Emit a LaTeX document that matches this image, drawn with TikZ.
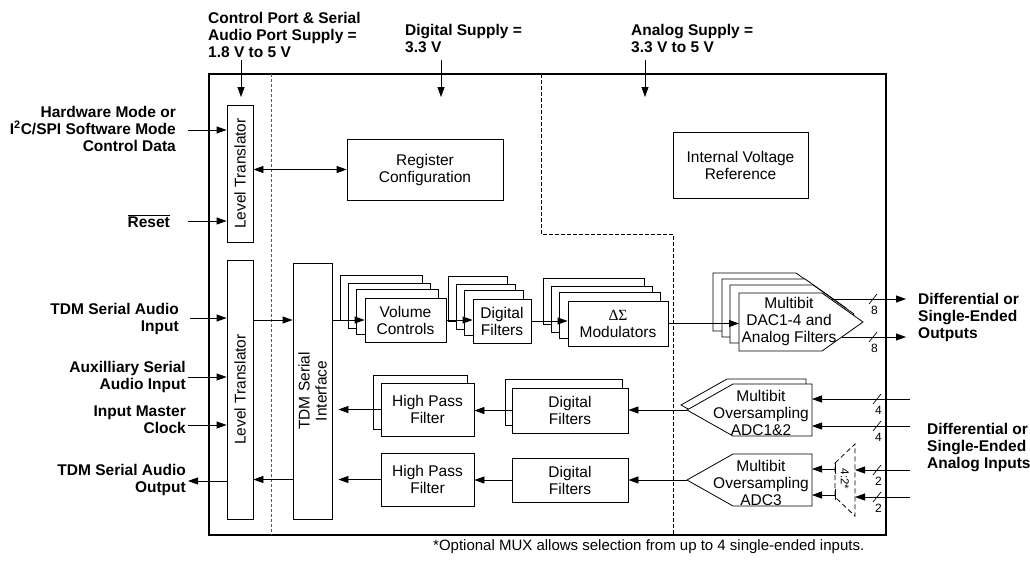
\documentclass[tikz,border=0pt]{standalone}
\usepackage{fontspec}
\setmainfont{Liberation Sans}
\newfontfamily\symserif{Liberation Serif}
\usetikzlibrary{arrows.meta,calc,backgrounds}
\newcommand\stackbehind[2]{%
  \begin{scope}[on background layer]
  \foreach \dx/\dy in {#2}{\draw[back] ($(#1.north west)+(\dx,\dy)$) rectangle ($(#1.south east)+(\dx,\dy)$);}
  \end{scope}}
\begin{document}
\begin{tikzpicture}[x=1pt,y=-1pt,
  txt/.style={font=\fontsize{15.5}{17}\selectfont, inner sep=0pt, align=center},
  blk/.style={draw, fill=white, line width=0.8pt, inner sep=0pt, align=center, font=\fontsize{15.5}{17}\selectfont},
  back/.style={draw, fill=white, line width=0.8pt},
  lbl/.style={font=\fontsize{15.5}{17}\selectfont\bfseries, inner sep=0pt, align=right, anchor=east},
  lbll/.style={font=\fontsize{15.5}{17}\selectfont\bfseries, inner sep=0pt, align=left, anchor=west},
  arr/.style={-{Triangle[length=10pt,width=7pt]}, line width=0.8pt},
  darr/.style={{Triangle[length=10pt,width=7pt]}-{Triangle[length=10pt,width=7pt]}, line width=0.8pt},
  wire/.style={line width=0.8pt},
  num/.style={font=\fontsize{12}{13}\selectfont, inner sep=0pt},
]
\useasboundingbox (0,0) rectangle (1030,560);

% chip outline and supply domains
\draw[line width=2pt] (209,74) rectangle (886,535);
\draw[line width=0.7pt, black!65, dash pattern=on 3pt off 2pt] (271,74) -- (271,535);
\draw[line width=0.7pt, dash pattern=on 4pt off 2pt] (541,74) |- (673,234) -- (673,535);

% level translators, TDM interface, register, reference
\node[blk, minimum width=26pt, minimum height=137pt] (lt1) at (240,173.5) {};
\node[txt, rotate=90] (lt1t) at (lt1.center) {Level Translator};
\node[blk, minimum width=26pt, minimum height=259pt] (lt2) at (240,389.5) {};
\node[txt, rotate=90] (lt2t) at (lt2.center) {Level Translator};
\node[blk, minimum width=39pt, minimum height=256pt] (tdm) at (312.5,391) {};
\node[txt, rotate=90] (tdmt) at (tdm.center) {TDM Serial\\Interface};
\node[blk, minimum width=156pt, minimum height=61pt] (reg) at (425,169.5) {Register\\Configuration};
\node[blk, minimum width=135pt, minimum height=66pt] (ivr) at (740.5,165) {Internal Voltage\\Reference};

% row 1 (DAC path)
\node[blk, minimum width=81pt, minimum height=44pt] (vol) at (405.5,320) {Volume\\Controls};
\node[blk, minimum width=58pt, minimum height=44pt] (dfa) at (502,321) {Digital\\Filters};
\node[blk, minimum width=100pt, minimum height=45pt] (dsm) at (618,323.5) {{\symserif ΔΣ}\\Modulators};
\stackbehind{vol}{-24/-22,-16/-14,-8/-8}
\stackbehind{dfa}{-24/-22,-16/-14,-8/-8}
\stackbehind{dsm}{-24/-22,-16/-14,-8/-8}

\coordinate (dac) at (739,293);
\foreach \dx/\dy in {-26/-20,-17/-14,-9/-8,0/0}{
  \draw[back] ($(dac)+(\dx,\dy)$) -- ++(83,0) -- ++(41,29) -- ++(-41,29) -- ++(-83,0) -- cycle;}
\node[txt] (dact) at (789,321) {Multibit\\DAC1-4 and\\Analog Filters};
\coordinate (dacin) at (739,322);
\coordinate (dacoa) at (830.5,299);
\coordinate (dacob) at (841.8,337);
\coordinate (outa) at (906,299);
\coordinate (outb) at (906,337);

% ADCs
\coordinate (adcA) at (812,384);
\foreach \dx/\dy in {-6/-5,0/0}{
  \draw[back] ($(adcA)+(\dx,\dy)$) -- ++(0,52) -- ++(-79,0) -- ++(-46,-26) -- ++(46,-26) -- cycle;}
\node[txt] (adcAt) at (761,413) {Multibit\\Oversampling\\ADC1\&2};
\coordinate (adcAtip) at (687,410);
\coordinate (adcB) at (812,454);
\draw[back] (adcB) -- ++(0,52) -- ++(-79,0) -- ++(-46,-26) -- ++(46,-26) -- cycle;
\node[txt] (adcBt) at (761,483) {Multibit\\Oversampling\\ADC3};
\coordinate (adcBtip) at (687,480);

% rows 2 and 3
\node[blk, minimum width=116pt, minimum height=45pt] (dfb) at (570,410.5) {Digital\\Filters};
\stackbehind{dfb}{-6/-8}
\node[blk, minimum width=93pt, minimum height=53pt] (hpa) at (427.5,409.5) {High Pass\\Filter};
\stackbehind{hpa}{-7/-7}
\node[blk, minimum width=116pt, minimum height=44pt] (dfc) at (570,480) {Digital\\Filters};
\node[blk, minimum width=93pt, minimum height=53pt] (hpb) at (427.5,479.5) {High Pass\\Filter};

% MUX
\coordinate (muxr) at (855,444);
\draw[line width=0.8pt, dash pattern=on 5pt off 3pt] (835,463) -- (855,444) -- (855,516) -- (835,497) -- cycle;
\node[font=\fontsize{11.5}{12}\selectfont, inner sep=0pt, rotate=-90] (muxt) at (845,479) {4:2*};
\draw[wire] (835,463) -- (835,474);
\draw[wire] (835,489) -- (835,500);

% supply arrows and labels
\node[lbll] (supc) at (208,34.5) {Control Port \& Serial\\Audio Port Supply =\\1.8 V to 5 V};
\node[lbll] (supd) at (405,38.5) {Digital Supply =\\3.3 V};
\node[lbll] (supa) at (631,38.5) {Analog Supply =\\3.3 V to 5 V};
\coordinate (s1) at (241,60); \coordinate (s1e) at (241,97);
\coordinate (s2) at (441,60); \coordinate (s2e) at (441,97);
\coordinate (s3) at (645,60); \coordinate (s3e) at (645,97);
\draw[arr] (s1) -- (s1e);
\draw[arr] (s2) -- (s2e);
\draw[arr] (s3) -- (s3e);

% left labels and arrows
\node[lbl] (hw) at (176,128.5) {Hardware Mode or\\I\textsuperscript{2}C/SPI Software Mode\\Control Data};
\coordinate (hwin) at (188,130);
\draw[arr] (hwin) -- (hwin -| lt1.west);
\node[lbl] (rst) at (170,221) {$\overline{\mbox{\bfseries Reset}}$};
\coordinate (rstin) at (188,221);
\draw[arr] (rstin) -- (rstin -| lt1.west);
\node[lbl] (tdmi) at (179,318.5) {TDM Serial Audio\\Input};
\coordinate (tdmiin) at (190,318);
\draw[arr] (tdmiin) -- (tdmiin -| lt2.west);
\node[lbl] (aux) at (186,376.5) {Auxilliary Serial\\Audio Input};
\coordinate (auxin) at (188,377);
\draw[arr] (auxin) -- (auxin -| lt2.west);
\node[lbl] (mclk) at (186,419.5) {Input Master\\Clock};
\coordinate (mclkin) at (188,425);
\draw[arr] (mclkin) -- (mclkin -| lt2.west);
\node[lbl] (tdmo) at (186,480) {TDM Serial Audio\\Output};
\coordinate (tdmoout) at (188,481);
\draw[arr] (tdmoout -| lt2.west) -- (tdmoout);

% internal connectors
\draw[darr] (reg.west -| lt1.east) -- (reg.west);
\draw[arr] (vol.west -| lt2.east) -- (vol.west -| tdm.west);
\draw[arr] (vol.west -| tdm.east) -- (vol.west);
\draw[arr] (vol.east) -- (vol.east -| dfa.west);
\draw[arr] (dfa.east) -- (dfa.east -| dsm.west);
\draw[arr] (dsm.east) -- (dsm.east -| dacin);
\draw[arr] (dacoa) -- (outa);
\draw[arr] (dacob) -- (outb);
\draw[arr] (adcAtip) -- (adcAtip -| dfb.east);
\draw[arr] (adcBtip) -- (adcBtip -| dfc.east);
\draw[arr] (dfb.west) -- (dfb.west -| hpa.east);
\draw[arr] (dfc.west) -- (dfc.west -| hpb.east);
\draw[arr, shorten >=6pt] (hpa.west) -- (hpa.west -| tdm.east);
\draw[arr, shorten >=6pt] (hpb.west) -- (hpb.west -| tdm.east);
\draw[arr] (hpb.west -| tdm.west) -- (hpb.west -| lt2.east);

% analog inputs
\coordinate (ina) at (910,399);
\coordinate (inb) at (910,426);
\coordinate (inc) at (910,470);
\coordinate (ind) at (910,497);
\draw[arr] (ina) -- (ina -| adcA);
\draw[arr] (inb) -- (inb -| adcA);
\draw[arr] (inc) -- (inc -| muxr);
\draw[arr] (ind) -- (ind -| muxr);
\coordinate (mo1) at (835,469);
\coordinate (mo2) at (835,495);
\draw[arr] (mo1) -- (mo1 -| adcB);
\draw[arr] (mo2) -- (mo2 -| adcB);

% bus width marks
\foreach \x/\y/\n in {873/299/8, 873/337/8, 877/399/4, 877/426/4, 877/470/2, 877/497/2}{
  \draw[line width=0.7pt] (\x-4,\y+5) -- (\x+4,\y-5);
  \node[num] at (\x+1.5,\y+11.5) {\n};}

% right labels
\node[lbll] (outl) at (918,317) {Differential or\\Single-Ended\\Outputs};
\node[lbll] (inl) at (927,448) {Differential or\\Single-Ended\\Analog Inputs};

% footnote
\node[txt, anchor=west, font=\fontsize{15}{17}\selectfont] (fn) at (433,547) {*Optional MUX allows selection from up to 4 single-ended inputs.};
\end{tikzpicture}
\end{document}
